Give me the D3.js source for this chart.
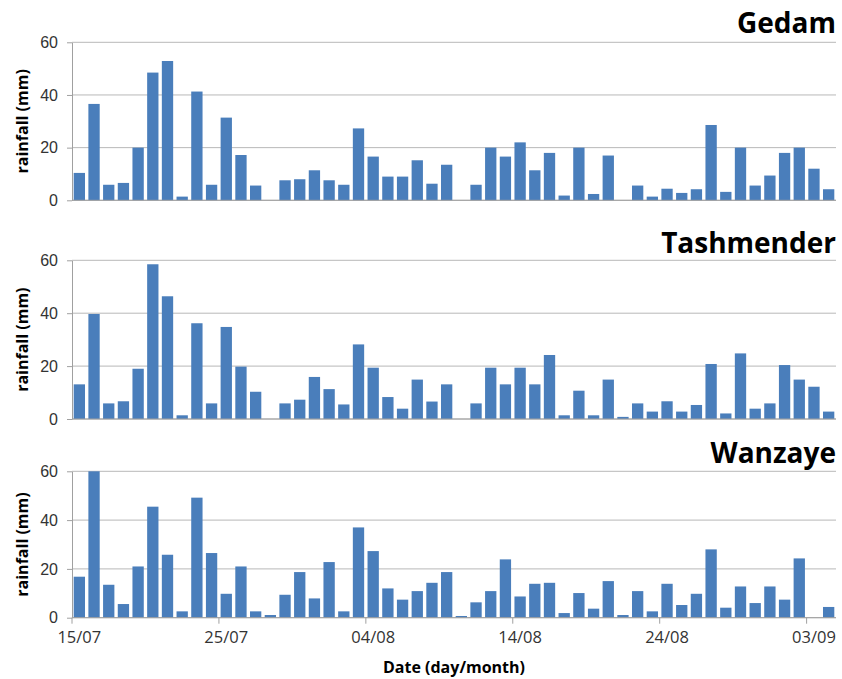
<!DOCTYPE html>
<html>
<head>
<meta charset="utf-8">
<script src="https://cdn.jsdelivr.net/npm/d3@7"></script>
<style>
  body { margin: 0; background: #fff; }
  svg { display: block; font-family: "Open Sans", "DejaVu Sans", sans-serif; }
  .tick text { fill: #333; font-size: 16px; }
  .title { font-weight: bold; font-size: 28px; fill: #000; }
  .ytitle { font-weight: bold; font-size: 16px; fill: #000; }
  .xtitle { font-weight: bold; font-size: 16px; fill: #000; }
</style>
</head>
<body>
<div id="chart"></div>
<script>
// daily rainfall (mm), 15/07 .. 04/09
var startDay = new Date(2000, 6, 15);
var nDays = 52;
var stations = ["Gedam", "Tashmender", "Wanzaye"];

var gedam = [10.4, 36.6, 5.9, 6.6, 20, 48.5, 52.9, 1.4, 41.3, 5.9, 31.4, 17.2, 5.6, 0,
  7.6, 8.0, 11.4, 7.6, 5.9, 27.3, 16.6, 9.0, 9.0, 15.2, 6.3, 13.5, 0, 5.9, 20, 16.6,
  22, 11.4, 18, 1.8, 20, 2.4, 17, 0, 5.6, 1.4, 4.4, 2.8, 4.2, 28.6, 3.2, 20, 5.6,
  9.4, 18, 20, 12, 4.2];
var tashmender = [13.1, 39.7, 5.9, 6.7, 19, 58.5, 46.4, 1.4, 36.2, 5.9, 34.8, 19.8, 10.3, 0,
  5.9, 7.3, 15.9, 11.3, 5.5, 28.2, 19.4, 8.3, 3.9, 14.9, 6.6, 13.1, 0, 5.9, 19.4, 13.1,
  19.4, 13.1, 24.2, 1.4, 10.7, 1.4, 14.9, 0.8, 5.9, 2.8, 6.7, 2.8, 5.3, 20.8, 2.1, 24.8,
  3.9, 5.9, 20.4, 14.9, 12.2, 2.8];
var wanzaye = [16.8, 60, 13.5, 5.6, 21, 45.5, 25.8, 2.6, 49.2, 26.5, 9.8, 21, 2.6, 1.1,
  9.4, 18.7, 7.9, 22.8, 2.6, 37, 27.3, 12, 7.4, 10.9, 14.3, 18.7, 0.7, 6.3, 10.9, 23.9,
  8.7, 13.9, 14.3, 1.9, 10.1, 3.7, 15, 1.1, 10.9, 2.6, 13.9, 5.2, 9.8, 28, 4.1, 12.8,
  6, 12.8, 7.4, 24.3, 0, 4.4];

var yTicks = [0, 20, 40, 60];
var xTickLabels = ["15/07", "25/07", "04/08", "14/08", "24/08", "03/09"];

var series = [gedam, tashmender, wanzaye];

var width = 842, height = 679;
var left = 72, right = 836;
var panels = [[42.3, 200.3], [260.3, 419], [471.3, 617.7]]; // top, bottom
var titleY = [33, 253, 463];

var fmt = d3.timeFormat("%d/%m");
var days = d3.timeDay.range(startDay, d3.timeDay.offset(startDay, nDays)).map(fmt);

var svg = d3.select("#chart").append("svg")
  .attr("width", width)
  .attr("height", height);

var pad = 0.23;
var x = d3.scaleBand()
  .domain(days)
  .range([left, right])
  .paddingInner(pad)
  .paddingOuter(pad / 2);

var step = x.step();

series.forEach(function(vals, i) {
  var y = d3.scaleLinear().domain([0, 60]).range([panels[i][1], panels[i][0]]);
  var g = svg.append("g");

  // grid
  g.selectAll("line.grid").data(yTicks).enter().append("line")
    .attr("class", "grid")
    .attr("x1", left).attr("x2", right)
    .attr("y1", function(d) { return y(d); })
    .attr("y2", function(d) { return y(d); })
    .attr("stroke", "#b8b8b8")
    .attr("stroke-width", 1);

  // y axis
  var ya = g.append("g")
    .attr("transform", "translate(" + left + ",0)")
    .call(d3.axisLeft(y).tickValues(yTicks).tickSize(5).tickPadding(9).tickSizeOuter(0));
  ya.select(".domain").attr("stroke", "#a0a0a0");
  ya.selectAll(".tick line").attr("stroke", "#a0a0a0");
  ya.selectAll(".tick text").attr("font-size", 16.5).attr("fill", "#333");

  // bars
  g.selectAll("rect").data(vals).enter().append("rect")
    .attr("x", function(d, j) { return x(days[j]); })
    .attr("width", x.bandwidth())
    .attr("y", function(d) { return y(d); })
    .attr("height", function(d) { return y(0) - y(d); })
    .attr("fill", "#4a7ebb");

  // zero line
  g.append("line")
    .attr("x1", left).attr("x2", right)
    .attr("y1", y(0)).attr("y2", y(0))
    .attr("stroke", "#a0a0a0");

  svg.append("text")
    .attr("class", "title")
    .attr("x", right)
    .attr("y", titleY[i])
    .attr("text-anchor", "end")
    .text(stations[i]);

  var cy = (panels[i][0] + panels[i][1]) / 2;
  svg.append("text")
    .attr("class", "ytitle")
    .attr("transform", "translate(28," + cy + ") rotate(-90)")
    .attr("text-anchor", "middle")
    .text("rainfall (mm)");

  if (i == 2) {
    var xa = svg.append("g");
    xTickLabels.forEach(function(lab) {
      var bx = x(lab) - step * pad / 2;
      xa.append("line")
        .attr("x1", bx).attr("x2", bx)
        .attr("y1", y(0)).attr("y2", y(0) + 6)
        .attr("stroke", "#a0a0a0");
      xa.append("text")
        .attr("x", x(lab) + x.bandwidth() / 2)
        .attr("y", y(0) + 25)
        .attr("text-anchor", "middle")
        .attr("font-size", 16.5)
        .attr("fill", "#333")
        .text(lab);
    });
  }
});

svg.append("text")
  .attr("class", "xtitle")
  .attr("x", 454)
  .attr("y", 673)
  .attr("text-anchor", "middle")
  .text("Date (day/month)");
</script>
</body>
</html>
